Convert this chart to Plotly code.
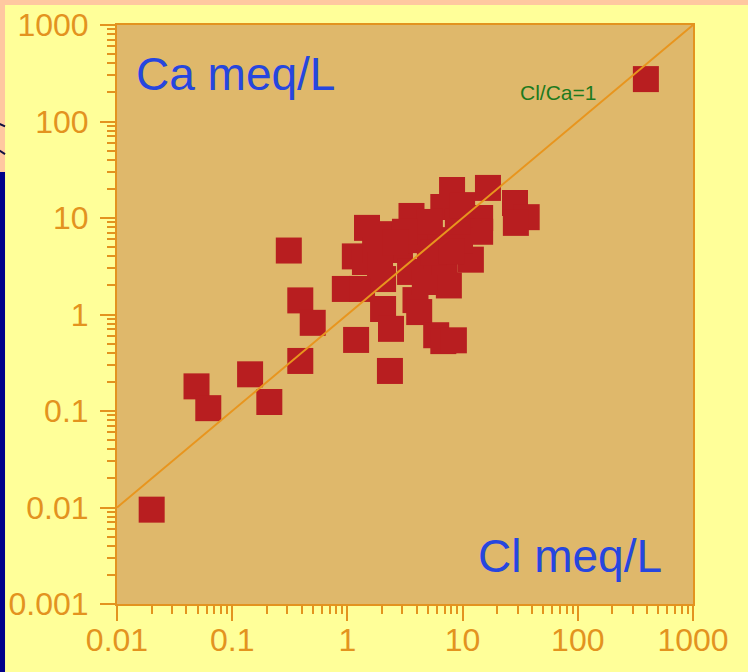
import plotly.graph_objects as go

# Data (Cl vs Ca, meq/L)
cl_meq = [0.020, 0.049, 0.062, 0.143, 0.21, 0.31, 0.39, 0.50, 0.39, 390,
          28.5, 36, 29,
          8.1, 16.6, 6.8, 3.6, 2.3, 1.48, 14.2, 14.2, 1.16, 1.42, 0.95, 1.34,
          2.04, 2.04, 2.39, 3.9, 4.2, 7.6, 11.8, 5.9, 6.8, 8.4, 1.19, 2.34,
          2.86, 4.27, 5.2, 3.5, 6.4, 9.5, 4.7, 5.2, 9.1, 1.74, 3.16, 9.9, 1.92, 7.0,
          5.6, 8.0, 2.6]
ca_meq = [0.0095, 0.18, 0.107, 0.24, 0.124, 4.6, 1.4, 0.82, 0.33, 275,
          14.3, 10.2, 8.9,
          19.5, 20.5, 13.0, 10.5, 6.8, 7.9, 10.0, 7.2, 4.0, 3.5, 1.84, 1.84,
          2.33, 1.14, 0.71, 1.41, 1.06, 2.0, 3.7, 0.61, 0.53, 0.54, 0.545, 0.26,
          4.66, 5.9, 3.5, 2.76, 5.9, 5.9, 2.17, 9.1, 9.1, 4.66, 7.2, 13.6, 3.26, 3.5,
          4.4, 4.5, 5.6]

ratio_line_x = [0.01, 1000]
ratio_line_y = [0.01, 1000]

x_tickvals = [0.01, 0.1, 1, 10, 100, 1000]
x_ticktext = ["0.01", "0.1", "1", "10", "100", "1000"]
y_tickvals = [0.001, 0.01, 0.1, 1, 10, 100, 1000]
y_ticktext = ["0.001", "0.01", "0.1", "1", "10", "100", "1000"]

minor_x = [m * 10.0 ** e for e in range(-2, 3) for m in range(2, 10)]
minor_y = [m * 10.0 ** e for e in range(-3, 3) for m in range(2, 10)]

ORANGE = "#E3931F"
FONT = "Liberation Sans, Arial, sans-serif"

fig = go.Figure()
fig.add_trace(go.Scatter(
    x=cl_meq, y=ca_meq, mode="markers",
    marker=dict(symbol="square", size=26, color="#B81E20",
                line=dict(color="#B81E20", width=0)),
    showlegend=False, hoverinfo="x+y"))
fig.add_trace(go.Scatter(
    x=ratio_line_x, y=ratio_line_y, mode="lines",
    line=dict(color="#E8951E", width=2), showlegend=False, cliponaxis=False))

axis_common = dict(
    type="log", showgrid=False, zeroline=False, automargin=False,
    showline=True, linecolor=ORANGE, linewidth=2, mirror=True,
    ticks="outside", ticklen=15, tickwidth=2, tickcolor=ORANGE,
    tickmode="array",
    tickfont=dict(family=FONT, size=32, color=ORANGE),
)

fig.update_layout(
    width=748, height=672,
    margin=dict(l=117, r=55, t=25, b=68),
    paper_bgcolor="#FFFF99",
    plot_bgcolor="#DFB86B",
    font=dict(family=FONT),
    xaxis=dict(**axis_common, range=[-2, 3],
               tickvals=x_tickvals, ticktext=x_ticktext, ticklabelstandoff=-8,
               minor=dict(tickmode="array", tickvals=minor_x, ticks="outside",
                          ticklen=8, tickwidth=2, tickcolor=ORANGE, showgrid=False)),
    yaxis=dict(**axis_common, range=[-3, 3],
               tickvals=y_tickvals, ticktext=y_ticktext, ticklabelstandoff=5,
               minor=dict(tickmode="array", tickvals=minor_y, ticks="outside",
                          ticklen=8, tickwidth=2, tickcolor=ORANGE, showgrid=False)),
    annotations=[
        dict(text="Ca meq/L", xref="paper", yref="paper", x=0.03, y=0.915,
             xanchor="left", yanchor="middle", showarrow=False,
             font=dict(family=FONT, size=46, color="#2646DF")),
        dict(text="Cl meq/L", xref="paper", yref="paper", x=0.95, y=0.083,
             xanchor="right", yanchor="middle", showarrow=False,
             font=dict(family=FONT, size=46, color="#2646DF")),
        dict(text="Cl/Ca=1", xref="paper", yref="paper", x=0.766, y=0.884,
             xanchor="center", yanchor="middle", showarrow=False,
             font=dict(family=FONT, size=21, color="#1E7A1E")),
    ],
    shapes=[
        dict(type="rect", xref="paper", yref="paper", x0=-0.21, x1=1.1,
             y0=1.0345, y1=1.05, fillcolor="#FFC8A0", line=dict(width=0), layer="below"),
        dict(type="rect", xref="paper", yref="paper", x0=-0.21, x1=-0.1944,
             y0=0.746, y1=1.05, fillcolor="#FFC8A0", line=dict(width=0), layer="below"),
        dict(type="rect", xref="paper", yref="paper", x0=-0.21, x1=-0.1944,
             y0=-0.13, y1=0.746, fillcolor="#00008A", line=dict(width=0), layer="below"),
        dict(type="line", xref="paper", yref="paper", x0=-0.21, x1=-0.1944,
             y0=0.832, y1=0.825, line=dict(color="#101040", width=2), layer="below"),
        dict(type="line", xref="paper", yref="paper", x0=-0.21, x1=-0.1944,
             y0=0.787, y1=0.777, line=dict(color="#101040", width=2), layer="below"),
    ],
)

fig.write_html("out.html", config={"displayModeBar": False},
               post_script="document.body.style.margin='0px';")
